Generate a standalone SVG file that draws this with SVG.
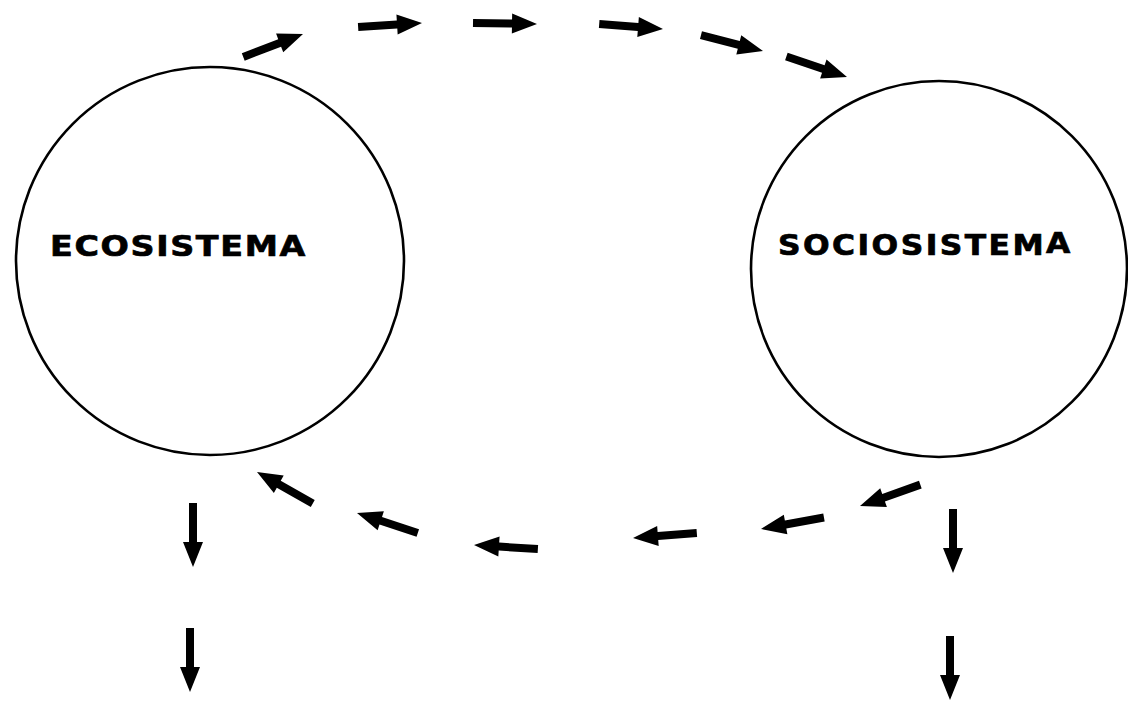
<svg xmlns="http://www.w3.org/2000/svg" xmlns:xlink="http://www.w3.org/1999/xlink" width="1128" height="702" viewBox="0 0 1128 702">
<style>
.node circle{fill:none;stroke:#000;stroke-width:2.6}
.lbl{font-family:"DejaVu Sans","Liberation Sans",Arial,sans-serif;font-weight:bold;fill:#000;stroke:#000;stroke-width:0.7}
.arr{fill:#000}
</style>
<defs>
<path id="ar" class="arr" d="M-64,-4 L-25,-4 L-25,-10 L0,0 L-25,10 L-25,4 L-64,4 Z"/>
</defs>
<rect width="1128" height="702" fill="#fff"/>
<g id="ecosistema" class="node">
<circle cx="210" cy="261" r="194"/>
<text class="lbl" transform="translate(50,256) scale(1.15,1)" x="0" y="0" font-size="29" textLength="222" lengthAdjust="spacing">ECOSISTEMA</text>
</g>
<g id="sociosistema" class="node">
<circle cx="939" cy="269" r="188"/>
<text class="lbl" transform="translate(778,255) scale(1.12,1)" x="0" y="0" font-size="28" textLength="261" lengthAdjust="spacing">SOCIOSISTEM<tspan dy="-2">A</tspan></text>
</g>
<g id="connectors">
<use xlink:href="#ar" transform="translate(303,34) rotate(-21)"/>
<use xlink:href="#ar" transform="translate(422,23) rotate(-3.5)"/>
<use xlink:href="#ar" transform="translate(537,24) rotate(0.9)"/>
<use xlink:href="#ar" transform="translate(663,29) rotate(4.5)"/>
<use xlink:href="#ar" transform="translate(763,51) rotate(14.3)"/>
<use xlink:href="#ar" transform="translate(847,77) rotate(18.7)"/>
<use xlink:href="#ar" transform="translate(257,472) rotate(209.4)"/>
<use xlink:href="#ar" transform="translate(357,513) rotate(198.2)"/>
<use xlink:href="#ar" transform="translate(474,545) rotate(183.6)"/>
<use xlink:href="#ar" transform="translate(633,538) rotate(175.6)"/>
<use xlink:href="#ar" transform="translate(761,529) rotate(169.7)"/>
<use xlink:href="#ar" transform="translate(860,506) rotate(160.5)"/>
<use xlink:href="#ar" transform="translate(193,567) rotate(90)"/>
<use xlink:href="#ar" transform="translate(190,692) rotate(90)"/>
<use xlink:href="#ar" transform="translate(953,573) rotate(90)"/>
<use xlink:href="#ar" transform="translate(950,700) rotate(90)"/>
</g>
</svg>
